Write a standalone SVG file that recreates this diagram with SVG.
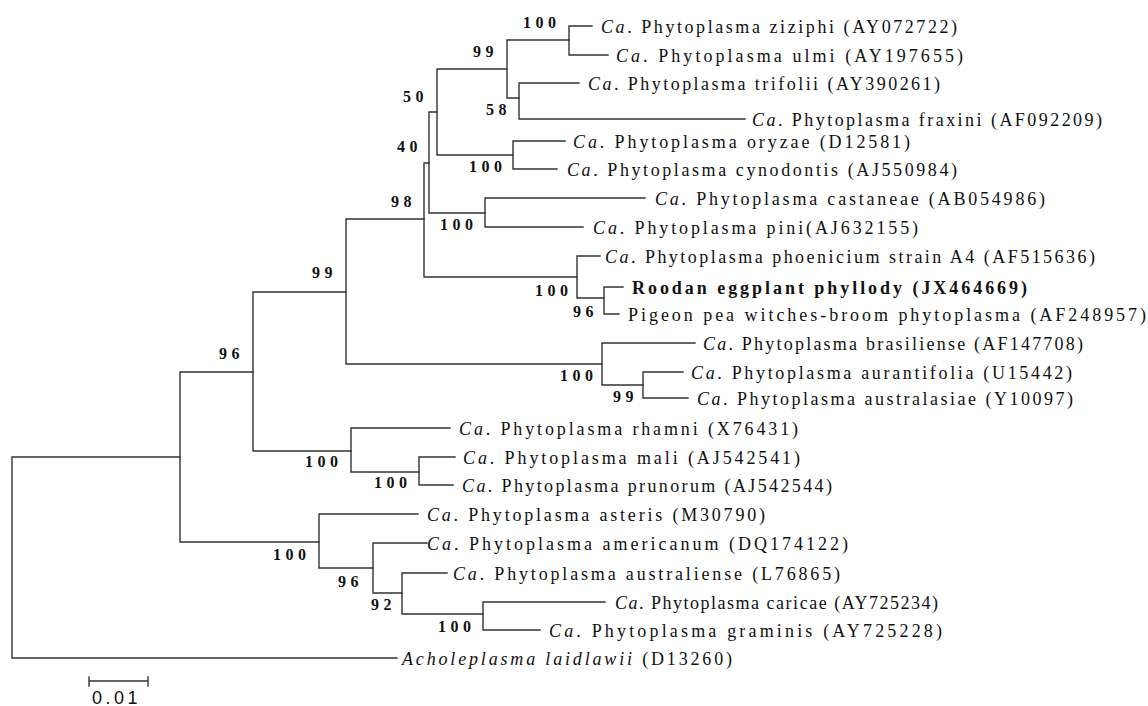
<svg xmlns="http://www.w3.org/2000/svg" width="1148" height="706" viewBox="0 0 1148 706">
<style>
.br{fill:none;stroke:#333;stroke-width:1.4;stroke-linecap:square}
.sp{font-family:"Liberation Serif","Times New Roman",serif;font-size:18px;fill:#111}
.it{font-style:italic}
.bd{font-weight:bold}
.bs{font-family:"Liberation Serif","Times New Roman",serif;font-size:16px;font-weight:bold;letter-spacing:4.5px;fill:#111}
.sc{font-family:"Liberation Sans",Arial,sans-serif;font-size:18px;letter-spacing:3.5px;fill:#111}
</style>
<rect width="1148" height="706" fill="#fff"/>
<g id="connectors">
<path class="br" d="M180 457H12V658H397"/>
<path class="br" d="M253 372H180V542H319"/>
<path class="br" d="M346 292H253V451H351"/>
<path class="br" d="M424 219H346V364H602"/>
<path class="br" d="M429 163H424V277H577"/>
<path class="br" d="M437 112H429V213H485"/>
<path class="br" d="M507 69H437V155H513"/>
<path class="br" d="M569 40H507V98H519"/>
<path class="br" d="M592 26H569V55H608"/>
<path class="br" d="M579 83H519V119H745"/>
<path class="br" d="M565 141H513V169H557"/>
<path class="br" d="M645 198H485V227H583"/>
<path class="br" d="M600 256H577V298H604"/>
<path class="br" d="M623 287H604V314H619"/>
<path class="br" d="M695 343H602V385H643"/>
<path class="br" d="M683 372H643V398H688"/>
<path class="br" d="M450 428H351V472H419"/>
<path class="br" d="M455 457H419V485H453"/>
<path class="br" d="M418 514H319V568H373"/>
<path class="br" d="M427 543H373V593H402"/>
<path class="br" d="M447 573H402V614H483"/>
<path class="br" d="M605 602H483V630H540"/>
</g>
<g id="internal-nodes">
<g id="n-ziziphi-ulmi"><text class="bs" x="523" y="28">100</text></g>
<g id="n-99a"><text class="bs" x="473" y="57">99</text></g>
<g id="n-50"><text class="bs" x="403" y="102">50</text></g>
<g id="n-58"><text class="bs" x="486" y="115">58</text></g>
<g id="n-40"><text class="bs" x="397" y="152">40</text></g>
<g id="n-oryzae"><text class="bs" x="469" y="172">100</text></g>
<g id="n-98"><text class="bs" x="391" y="207">98</text></g>
<g id="n-castaneae"><text class="bs" x="440" y="230">100</text></g>
<g id="n-99b"><text class="bs" x="312" y="278">99</text></g>
<g id="n-phoenicium"><text class="bs" x="535" y="296">100</text></g>
<g id="n-roodan"><text class="bs" x="573" y="317">96</text></g>
<g id="n-96a"><text class="bs" x="219" y="359">96</text></g>
<g id="n-brasiliense"><text class="bs" x="560" y="381">100</text></g>
<g id="n-aurantifolia"><text class="bs" x="613" y="402">99</text></g>
<g id="n-rhamni"><text class="bs" x="305" y="467">100</text></g>
<g id="n-mali"><text class="bs" x="374" y="488">100</text></g>
<g id="n-asteris"><text class="bs" x="273" y="560">100</text></g>
<g id="n-americanum"><text class="bs" x="338" y="587">96</text></g>
<g id="n-92"><text class="bs" x="371" y="610">92</text></g>
<g id="n-caricae"><text class="bs" x="438" y="632">100</text></g>
</g>
<g id="leaves">
<g id="ziziphi"><text class="sp" x="601" y="33" textLength="356" lengthAdjust="spacing"><tspan class="it">Ca</tspan>. Phytoplasma ziziphi (AY072722)</text></g>
<g id="ulmi"><text class="sp" x="616" y="62" textLength="347" lengthAdjust="spacing"><tspan class="it">Ca</tspan>. Phytoplasma ulmi (AY197655)</text></g>
<g id="trifolii"><text class="sp" x="588" y="90" textLength="352" lengthAdjust="spacing"><tspan class="it">Ca</tspan>. Phytoplasma trifolii (AY390261)</text></g>
<g id="fraxini"><text class="sp" x="752" y="126" textLength="350" lengthAdjust="spacing"><tspan class="it">Ca</tspan>. Phytoplasma fraxini (AF092209)</text></g>
<g id="oryzae"><text class="sp" x="573" y="148" textLength="337" lengthAdjust="spacing"><tspan class="it">Ca</tspan>. Phytoplasma oryzae (D12581)</text></g>
<g id="cynodontis"><text class="sp" x="567" y="176" textLength="390" lengthAdjust="spacing"><tspan class="it">Ca</tspan>. Phytoplasma cynodontis (AJ550984)</text></g>
<g id="castaneae"><text class="sp" x="655" y="205" textLength="390" lengthAdjust="spacing"><tspan class="it">Ca</tspan>. Phytoplasma castaneae (AB054986)</text></g>
<g id="pini"><text class="sp" x="593" y="234" textLength="325" lengthAdjust="spacing"><tspan class="it">Ca</tspan>. Phytoplasma pini(AJ632155)</text></g>
<g id="phoenicium"><text class="sp" x="605" y="263" textLength="490" lengthAdjust="spacing"><tspan class="it">Ca</tspan>. Phytoplasma phoenicium strain A4 (AF515636)</text></g>
<g id="roodan"><text class="sp bd" x="632" y="294" textLength="395" lengthAdjust="spacing">Roodan eggplant phyllody (JX464669)</text></g>
<g id="pigeonpea"><text class="sp" x="628" y="321" textLength="518" lengthAdjust="spacing">Pigeon pea witches-broom phytoplasma (AF248957)</text></g>
<g id="brasiliense"><text class="sp" x="703" y="350" textLength="380" lengthAdjust="spacing"><tspan class="it">Ca</tspan>. Phytoplasma brasiliense (AF147708)</text></g>
<g id="aurantifolia"><text class="sp" x="691" y="379" textLength="381" lengthAdjust="spacing"><tspan class="it">Ca</tspan>. Phytoplasma aurantifolia (U15442)</text></g>
<g id="australasiae"><text class="sp" x="697" y="405" textLength="376" lengthAdjust="spacing"><tspan class="it">Ca</tspan>. Phytoplasma australasiae (Y10097)</text></g>
<g id="rhamni"><text class="sp" x="459" y="435" textLength="339" lengthAdjust="spacing"><tspan class="it">Ca</tspan>. Phytoplasma rhamni (X76431)</text></g>
<g id="mali"><text class="sp" x="463" y="464" textLength="337" lengthAdjust="spacing"><tspan class="it">Ca</tspan>. Phytoplasma mali (AJ542541)</text></g>
<g id="prunorum"><text class="sp" x="462" y="492" textLength="370" lengthAdjust="spacing"><tspan class="it">Ca</tspan>. Phytoplasma prunorum (AJ542544)</text></g>
<g id="asteris"><text class="sp" x="427" y="521" textLength="338" lengthAdjust="spacing"><tspan class="it">Ca</tspan>. Phytoplasma asteris (M30790)</text></g>
<g id="americanum"><text class="sp" x="427" y="550" textLength="421" lengthAdjust="spacing"><tspan class="it">Ca</tspan>. Phytoplasma americanum (DQ174122)</text></g>
<g id="australiense"><text class="sp" x="453" y="580" textLength="387" lengthAdjust="spacing"><tspan class="it">Ca</tspan>. Phytoplasma australiense (L76865)</text></g>
<g id="caricae"><text class="sp" x="615" y="609" textLength="323" lengthAdjust="spacing"><tspan class="it">Ca</tspan>. Phytoplasma caricae (AY725234)</text></g>
<g id="graminis"><text class="sp" x="549" y="637" textLength="393" lengthAdjust="spacing"><tspan class="it">Ca</tspan>. Phytoplasma graminis (AY725228)</text></g>
<g id="acholeplasma"><text class="sp" x="402" y="665" textLength="330" lengthAdjust="spacing"><tspan class="it">Acholeplasma laidlawii</tspan> (D13260)</text></g>
</g>
<g id="scale-bar">
<path class="br" d="M89 681H148M89 677V686M148 677V686"/>
<text class="sc" x="92" y="704">0.01</text>
</g>
</svg>
